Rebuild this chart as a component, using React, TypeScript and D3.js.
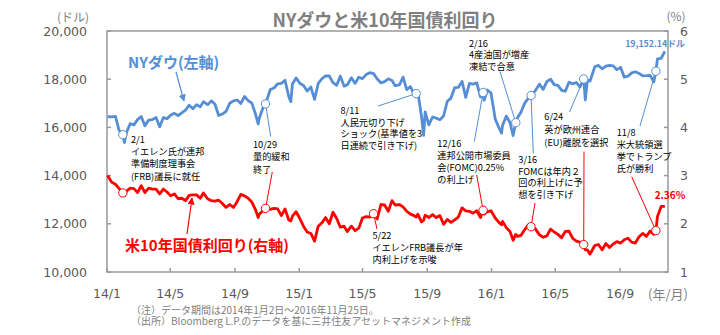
import React from "react";
import * as d3 from "d3";

// ---- data ----
const dates = [
  "2014-01-02","2014-01-10","2014-01-17","2014-01-24","2014-01-31","2014-02-03","2014-02-07","2014-02-14","2014-02-21","2014-02-28",
  "2014-03-07","2014-03-14","2014-03-21","2014-03-28","2014-04-04","2014-04-11","2014-04-18","2014-04-25","2014-05-02","2014-05-09",
  "2014-05-16","2014-05-23","2014-05-30","2014-06-06","2014-06-13","2014-06-20","2014-06-27","2014-07-03","2014-07-11","2014-07-18",
  "2014-07-25","2014-08-01","2014-08-08","2014-08-15","2014-08-22","2014-08-29","2014-09-05","2014-09-12","2014-09-19","2014-09-26",
  "2014-10-03","2014-10-10","2014-10-15","2014-10-17","2014-10-24","2014-10-29","2014-11-07","2014-11-14","2014-11-21","2014-11-28",
  "2014-12-05","2014-12-12","2014-12-16","2014-12-19","2014-12-26",
  "2015-01-02","2015-01-09","2015-01-16","2015-01-23","2015-01-30","2015-02-06","2015-02-13","2015-02-20","2015-02-27","2015-03-06",
  "2015-03-13","2015-03-20","2015-03-27","2015-04-02","2015-04-10","2015-04-17","2015-04-24","2015-05-01","2015-05-08","2015-05-15",
  "2015-05-22","2015-05-29","2015-06-05","2015-06-12","2015-06-19","2015-06-26","2015-07-02","2015-07-10","2015-07-17","2015-07-24",
  "2015-07-31","2015-08-07","2015-08-11","2015-08-14","2015-08-21","2015-08-25","2015-08-28","2015-09-04","2015-09-11","2015-09-18",
  "2015-09-25","2015-10-02","2015-10-09","2015-10-16","2015-10-23","2015-10-30","2015-11-06","2015-11-13","2015-11-20","2015-11-27",
  "2015-12-04","2015-12-11","2015-12-16","2015-12-18","2015-12-24","2015-12-31",
  "2016-01-08","2016-01-15","2016-01-20","2016-01-22","2016-01-29","2016-02-05","2016-02-11","2016-02-16","2016-02-19","2016-02-26",
  "2016-03-04","2016-03-11","2016-03-16","2016-03-24","2016-04-01","2016-04-08","2016-04-15","2016-04-22","2016-04-29","2016-05-06",
  "2016-05-13","2016-05-20","2016-05-27","2016-06-03","2016-06-10","2016-06-17","2016-06-24","2016-06-27","2016-07-01","2016-07-06",
  "2016-07-15","2016-07-22","2016-07-29","2016-08-05","2016-08-12","2016-08-19","2016-08-26","2016-09-02","2016-09-09","2016-09-16",
  "2016-09-23","2016-09-30","2016-10-07","2016-10-14","2016-10-21","2016-10-28","2016-11-04","2016-11-08","2016-11-11","2016-11-18",
  "2016-11-25",
];

const dowValues = [
  16441,16437,16458,15879,15698,15372,15794,16154,16103,16321,
  16452,16065,16302,16323,16412,16027,16409,16361,16512,16583,
  16491,16606,16717,16924,16776,16947,16851,17068,16944,17100,
  16961,16493,16554,16663,17001,17098,17137,16988,17280,17113,
  17009,16544,16141,16380,16805,16975,17573,17634,17810,17828,
  17958,17280,17068,17804,18053,
  17833,17737,17511,17672,17165,17824,18019,18140,18133,17856,
  17749,18128,17712,17763,18057,17826,18080,18024,18191,18272,
  18232,18010,17849,17898,18015,17947,17730,17760,18086,17568,
  17690,17373,17402,17477,16460,15666,16643,16102,16433,16385,
  16315,16472,17084,17216,17646,17664,17910,17245,17824,17798,
  17848,17265,17450,17128,17552,17425,
  16347,15988,15766,16094,16466,16205,15660,16196,16392,16640,
  17007,17213,17326,17516,17793,17577,17897,18004,17774,17741,
  17535,17501,17873,17807,17865,17675,18011,17140,17949,17918,
  18516,18571,18432,18543,18576,18553,18395,18492,18085,18124,
  18261,18308,18240,18138,18145,18161,17888,18332,18847,18868,
  19152,
];

const yieldValues = [
  3.00,2.86,2.82,2.73,2.64,2.58,2.68,2.74,2.73,2.65,
  2.79,2.65,2.74,2.72,2.72,2.62,2.72,2.66,2.58,2.62,
  2.52,2.53,2.48,2.59,2.60,2.60,2.53,2.64,2.52,2.48,
  2.47,2.49,2.42,2.34,2.40,2.34,2.46,2.61,2.58,2.53,
  2.45,2.29,2.13,2.20,2.27,2.32,2.30,2.32,2.31,2.17,
  2.31,2.08,2.06,2.16,2.25,
  2.11,1.95,1.83,1.80,1.64,1.95,2.02,2.13,2.00,2.24,
  2.11,1.93,1.95,1.84,1.95,1.86,1.91,2.12,2.15,2.14,
  2.21,2.10,2.40,2.39,2.26,2.48,2.39,2.40,2.35,2.26,
  2.20,2.17,2.14,2.20,2.04,2.07,2.18,2.13,2.19,2.13,
  2.17,1.99,2.09,2.03,2.08,2.14,2.33,2.27,2.26,2.22,
  2.27,2.13,2.28,2.20,2.25,2.27,
  2.12,2.03,1.98,2.05,1.92,1.84,1.66,1.78,1.74,1.76,
  1.88,1.98,1.94,1.90,1.77,1.72,1.75,1.89,1.83,1.78,
  1.71,1.84,1.85,1.70,1.64,1.62,1.57,1.46,1.46,1.37,
  1.55,1.57,1.46,1.59,1.51,1.58,1.63,1.60,1.67,1.70,
  1.62,1.60,1.73,1.80,1.74,1.85,1.78,1.86,2.15,2.36,
  2.36,
];

const leftTicks = [10000, 12000, 14000, 16000, 18000, 20000];
const rightTicks = [1, 2, 3, 4, 5, 6];
const xTickDates = ["2014-01-01","2014-05-01","2014-09-01","2015-01-01","2015-05-01","2015-09-01","2016-01-01","2016-05-01","2016-09-01"];
const xTickLabels = ["14/1","14/5","14/9","15/1","15/5","15/9","16/1","16/5","16/9"];

const events = [
  { date: "2014-01-31", lines: ["2/1", "イエレン氏が連邦", "準備制度理事会", "(FRB)議長に就任"], onDow: true, onYield: true },
  { date: "2014-10-29", lines: ["10/29", "量的緩和", "終了"], onDow: true, onYield: true },
  { date: "2015-08-11", lines: ["8/11", "人民元切り下げ", "ショック(基準値を3", "日連続で引き下げ)"], onDow: true, onYield: false },
  { date: "2015-05-22", lines: ["5/22", "イエレンFRB議長が年", "内利上げを示唆"], onDow: false, onYield: true },
  { date: "2016-02-16", lines: ["2/16", "4産油国が増産", "凍結で合意"], onDow: true, onYield: false },
  { date: "2015-12-16", lines: ["12/16", "連邦公開市場委員", "会(FOMC)0.25%", "の利上げ"], onDow: true, onYield: true },
  { date: "2016-03-16", lines: ["3/16", "FOMCは年内２", "回の利上げに予", "想を引き下げ"], onDow: true, onYield: true },
  { date: "2016-06-24", lines: ["6/24", "英が欧州連合", "(EU)離脱を選択"], onDow: true, onYield: true },
  { date: "2016-11-08", lines: ["11/8", "米大統領選", "挙でトランプ", "氏が勝利"], onDow: true, onYield: true },
];

const title = "NYダウと米10年国債利回り";
const dowLabel = "NYダウ(左軸)";
const yieldLabel = "米10年国債利回り(右軸)";
const dowEndLabel = "19,152.14ドル";
const yieldEndLabel = "2.36%";
const notes = [
  "（注）データ期間は2014年1月2日～2016年11月25日。",
  "（出所）Bloomberg L.P.のデータを基に三井住友アセットマネジメント作成",
];

// ---- layout (positions only) ----
const W = 720, H = 335;
const X0 = 107, X1 = 668, Y0 = 31, Y1 = 272;
const BLUE = "#558ED5";
const RED = "#FF0000";
const GRAY = "#999999";
const TXT = "#595959";
const annLayout = [
  { x: 131, y: 139.5, dy: 12.3, blue: null, red: null },
  { x: 253, y: 144.3, dy: 12.5, blue: [270.7, 136.5], red: [272.3, 172] },
  { x: 340.5, y: 110.7, dy: 11.6, blue: [378, 106], red: null },
  { x: 372.5, y: 235.7, dy: 12.2, blue: null, red: [377, 229] },
  { x: 469, y: 43.3, dy: 11.7, blue: [500, 71.5], red: null },
  { x: 437.3, y: 143.3, dy: 12.2, blue: [474.3, 141.5], red: [476.7, 175] },
  { x: 518.3, y: 159.3, dy: 11.9, blue: [533.3, 153.3], red: [535, 203] },
  { x: 544.3, y: 117, dy: 13, blue: [569.5, 112], red: [584, 151.7] },
  { x: 616.7, y: 132.7, dy: 11.9, blue: [640, 126], red: [631.7, 176.7] },
];

const JP = "'Noto Sans CJK JP', 'Noto Sans', sans-serif";
const NUM = "'DejaVu Sans', sans-serif";

export default function App() {
  const parse = d3.timeParse("%Y-%m-%d");
  const x = d3.scaleTime().domain([parse("2014-01-01")!, parse("2016-12-01")!]).range([X0, X1]);
  const yL = d3.scaleLinear().domain([10000, 20000]).range([Y1, Y0]);
  const yR = d3.scaleLinear().domain([1, 6]).range([Y1, Y0]);
  const pts = dates.map((d, i) => ({ t: parse(d)!, dow: dowValues[i], yl: yieldValues[i] }));

  const dowLine = d3.line<any>().x((p) => x(p.t)).y((p) => yL(p.dow)).curve(d3.curveLinear);
  const yldLine = d3.line<any>().x((p) => x(p.t)).y((p) => yR(p.yl)).curve(d3.curveLinear);

  const tick = 4;
  const last = pts[pts.length - 1];

  return (
    <svg width={W} height={H} style={{ position: "absolute", left: 0, top: 0, background: "#fff" }}>
      <defs>
        <marker id="arrB" viewBox="0 0 10 10" refX="9" refY="5" markerWidth="6" markerHeight="6" orient="auto">
          <path d="M0,0 L10,5 L0,10 z" fill={BLUE} />
        </marker>
        <marker id="arrR" viewBox="0 0 10 10" refX="9" refY="5" markerWidth="6" markerHeight="6" orient="auto">
          <path d="M0,0 L10,5 L0,10 z" fill={RED} />
        </marker>
      </defs>

      {/* title */}
      <text x={385} y={19} textAnchor="middle" dominantBaseline="central" fontFamily={JP} fontWeight="bold" fontSize={18} fill="#7F7F7F">{title}</text>

      {/* unit labels */}
      <text x={73} y={16} textAnchor="middle" dominantBaseline="central" fontFamily={JP} fontSize={12} fill="#808080">(ドル)</text>
      <text x={676} y={15} textAnchor="middle" dominantBaseline="central" fontFamily={JP} fontSize={12} fill="#808080">(%)</text>

      {/* frame */}
      <rect x={X0} y={Y0} width={X1 - X0} height={Y1 - Y0} fill="none" stroke={GRAY} strokeWidth={1.5} />

      {/* left axis */}
      {leftTicks.map((v) => (
        <g key={"l" + v}>
          <line x1={X0} x2={X0 + tick} y1={yL(v)} y2={yL(v)} stroke={GRAY} strokeWidth={1.5} />
          <text x={87} y={yL(v)} textAnchor="end" dominantBaseline="central" fontFamily={NUM} fontSize={12.5} fill={TXT}>{d3.format(",")(v)}</text>
        </g>
      ))}
      {/* right axis */}
      {rightTicks.map((v) => (
        <g key={"r" + v}>
          <line x1={X1 - tick} x2={X1} y1={yR(v)} y2={yR(v)} stroke={GRAY} strokeWidth={1.5} />
          <text x={680} y={yR(v)} textAnchor="start" dominantBaseline="central" fontFamily={NUM} fontSize={12.5} fill={TXT}>{v}</text>
        </g>
      ))}
      {/* bottom axis */}
      {xTickDates.map((d, i) => (
        <g key={"x" + d}>
          <line x1={x(parse(d)!)} x2={x(parse(d)!)} y1={Y1} y2={Y1 - tick} stroke={GRAY} strokeWidth={1.5} />
          <text x={x(parse(d)!)} y={293} textAnchor="middle" dominantBaseline="central" fontFamily={NUM} fontSize={12.5} fill={TXT}>{xTickLabels[i]}</text>
        </g>
      ))}
      <text x={668} y={293} textAnchor="middle" dominantBaseline="central" fontFamily={JP} fontSize={13} fill="#808080">(年/月)</text>

      {/* series */}
      <path d={dowLine(pts) || ""} fill="none" stroke={BLUE} strokeWidth={2.8} strokeLinejoin="round" />
      <path d={yldLine(pts) || ""} fill="none" stroke={RED} strokeWidth={2.8} strokeLinejoin="round" />

      {/* annotations */}
      {events.map((ev, i) => {
        const L = annLayout[i];
        const idx = dates.indexOf(ev.date);
        const p = pts[idx];
        const cx = x(p.t);
        return (
          <g key={"e" + i}>
            {ev.onDow && L.blue && (
              <line x1={L.blue[0]} y1={L.blue[1]} x2={cx} y2={yL(p.dow)} stroke={BLUE} strokeWidth={1} />
            )}
            {ev.onYield && L.red && (
              <line x1={L.red[0]} y1={L.red[1]} x2={cx} y2={yR(p.yl)} stroke={RED} strokeWidth={1} />
            )}
            {ev.onDow && <circle cx={cx} cy={yL(p.dow)} r={4.2} fill="#fff" stroke={BLUE} strokeWidth={1} />}
            {ev.onYield && <circle cx={cx} cy={yR(p.yl)} r={4.2} fill="#fff" stroke={RED} strokeWidth={1} />}
            <text fontFamily={JP} fontSize={9.2} fill="#000">
              {ev.lines.map((s, j) => (
                <tspan key={j} x={L.x} y={L.y + 3.3 + j * L.dy}>{s}</tspan>
              ))}
            </text>
          </g>
        );
      })}

      {/* series labels */}
      <text x={128} y={61} dominantBaseline="central" fontFamily={JP} fontWeight="bold" fontSize={15} fill={BLUE}>{dowLabel}</text>
      <line x1={176} y1={72} x2={184} y2={101} stroke={BLUE} strokeWidth={1.2} markerEnd="url(#arrB)" />
      <text x={125} y={244} dominantBaseline="central" fontFamily={JP} fontWeight="bold" fontSize={15} fill={RED}>{yieldLabel}</text>
      <line x1={187} y1={234} x2={192} y2={198} stroke={RED} strokeWidth={1.2} markerEnd="url(#arrR)" />

      {/* end labels */}
      <text x={x(last.t) + 20} y={43.5} textAnchor="end" dominantBaseline="central" fontFamily={JP} fontWeight="bold" fontSize={8.8} fill={BLUE}>{dowEndLabel}</text>
      <text x={670} y={194.5} textAnchor="middle" dominantBaseline="central" fontFamily={JP} fontWeight="bold" fontSize={10} fill={RED}>{yieldEndLabel}</text>

      {/* notes */}
      <text fontFamily={JP} fontSize={10} fill="#808080">
        {notes.map((s, i) => (
          <tspan key={"n" + i} x={131} y={313.5 + i * 11.8}>{s}</tspan>
        ))}
      </text>
    </svg>
  );
}
